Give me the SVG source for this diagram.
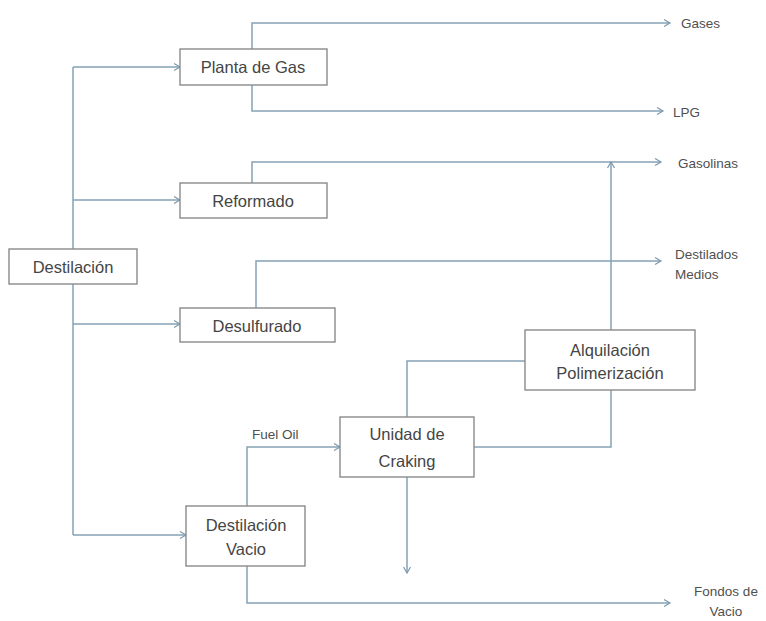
<svg xmlns="http://www.w3.org/2000/svg" width="766" height="621" viewBox="0 0 766 621">
<defs>
<marker id="arr" markerWidth="10" markerHeight="10" refX="8" refY="5" orient="auto" markerUnits="userSpaceOnUse">
<path d="M2,1.5 L8,5 L2,8.5" fill="none" stroke="#7d99ad" stroke-width="1.2"/>
</marker>
</defs>
<style>
.box{fill:#fff;stroke:#8a8a8a;stroke-width:1.4}
.bt{font-family:"Liberation Sans",Arial,sans-serif;font-size:16.5px;fill:#454545;text-anchor:middle;dominant-baseline:central}
.lb{font-family:"Liberation Sans",Arial,sans-serif;font-size:13.5px;fill:#505050;dominant-baseline:central}
.c{fill:none;stroke:#86a2b5;stroke-width:1.5}
</style>
<rect width="766" height="621" fill="#fff"/>
<g id="connectors">
<path class="c" d="M73,249 V535"/>
<path class="c" d="M73,67 V249"/>
<path class="c" d="M73,67 H180" marker-end="url(#arr)"/>
<path class="c" d="M73,200 H180" marker-end="url(#arr)"/>
<path class="c" d="M73,324 H180" marker-end="url(#arr)"/>
<path class="c" d="M73,535 H186" marker-end="url(#arr)"/>
<path class="c" d="M252,49 V23 H670" marker-end="url(#arr)"/>
<path class="c" d="M252,85 V111 H663" marker-end="url(#arr)"/>
<path class="c" d="M252,183 V162 H661" marker-end="url(#arr)"/>
<path class="c" d="M256,308 V261 H661" marker-end="url(#arr)"/>
<path class="c" d="M611,330 V162" marker-end="url(#arr)"/>
<path class="c" d="M525,361 H407 V417"/>
<path class="c" d="M474,447 H611 V390"/>
<path class="c" d="M407,477 V573" marker-end="url(#arr)"/>
<path class="c" d="M247,506 V447 H340" marker-end="url(#arr)"/>
<path class="c" d="M247,566 V603 H670" marker-end="url(#arr)"/>
</g>
<g id="destilacion">
<rect class="box" x="9" y="249" width="128" height="35"/>
<text class="bt" x="73" y="267">Destilación</text>
</g>
<g id="planta-gas">
<rect class="box" x="180" y="49" width="147" height="36"/>
<text class="bt" x="253" y="67">Planta de Gas</text>
</g>
<g id="reformado">
<rect class="box" x="180" y="183" width="147" height="35"/>
<text class="bt" x="253" y="201">Reformado</text>
</g>
<g id="desulfurado">
<rect class="box" x="180" y="308" width="155" height="34"/>
<text class="bt" x="257" y="326">Desulfurado</text>
</g>
<g id="destilacion-vacio">
<rect class="box" x="186" y="506" width="119" height="60"/>
<text class="bt" x="246" y="525">Destilación</text>
<text class="bt" x="246" y="549">Vacio</text>
</g>
<g id="unidad-craking">
<rect class="box" x="340" y="417" width="134" height="60"/>
<text class="bt" x="407" y="434">Unidad de</text>
<text class="bt" x="407" y="461">Craking</text>
</g>
<g id="alquilacion">
<rect class="box" x="525" y="330" width="170" height="60"/>
<text class="bt" x="610" y="350">Alquilación</text>
<text class="bt" x="610" y="373">Polimerización</text>
</g>
<g id="labels">
<text class="lb" x="681" y="23">Gases</text>
<text class="lb" x="673" y="112">LPG</text>
<text class="lb" x="678" y="163">Gasolinas</text>
<text class="lb" x="675" y="254">Destilados</text>
<text class="lb" x="675" y="274">Medios</text>
<text class="lb" x="252" y="434">Fuel Oil</text>
<text class="lb" x="726" y="591" text-anchor="middle">Fondos de</text>
<text class="lb" x="726" y="611" text-anchor="middle">Vacio</text>
</g>
</svg>
